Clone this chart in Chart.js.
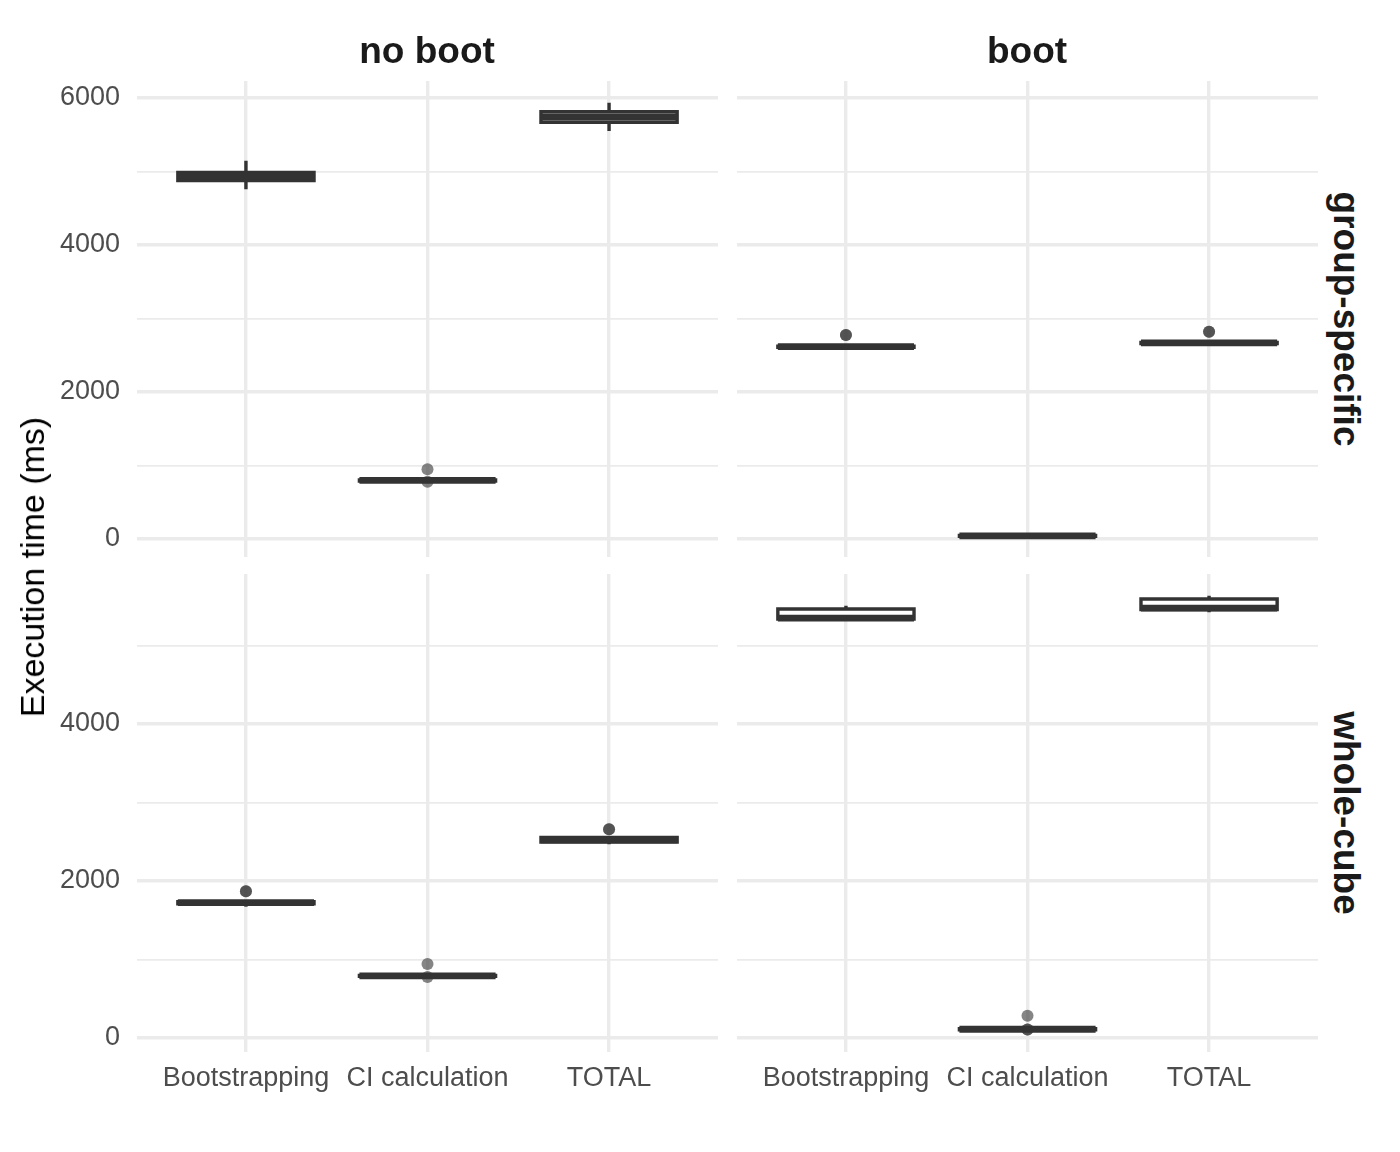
<!DOCTYPE html>
<html><head><meta charset="utf-8">
<script src="https://cdn.jsdelivr.net/npm/chart.js@4.4.1/dist/chart.umd.min.js"></script>
<style>
html,body{margin:0;padding:0;background:#fff;}
body{width:1400px;height:1152px;position:relative;overflow:hidden;font-family:"Liberation Sans",Arial,sans-serif;}
canvas{position:absolute;}
.lab{position:absolute;white-space:nowrap;line-height:1;transform-origin:center center;}
.strip{font-weight:bold;font-size:37px;color:#1a1a1a;}
.ytitle{font-size:34px;color:#000;}
</style></head><body>
<canvas id="c1" width="718" height="556" style="left:0px;top:41px;"></canvas>
<canvas id="c2" width="581" height="556" style="left:737px;top:41px;"></canvas>
<canvas id="c3" width="718" height="588" style="left:0px;top:534px;"></canvas>
<canvas id="c4" width="581" height="588" style="left:737px;top:534px;"></canvas>

<div class="lab strip" style="left:427px;top:50px;transform:translate(-50%,-50%);">no boot</div>
<div class="lab strip" style="left:1027px;top:50px;transform:translate(-50%,-50%);">boot</div>
<div class="lab strip" style="left:1346px;top:319px;transform:translate(-50%,-50%) rotate(90deg);">group-specific</div>
<div class="lab strip" style="left:1346px;top:813px;transform:translate(-50%,-50%) rotate(90deg);">whole-cube</div>
<div class="lab ytitle" style="left:32px;top:567px;transform:translate(-50%,-50%) rotate(-90deg);">Execution time (ms)</div>

<script>
// ---------- DATA ----------
const categories = ['Bootstrapping', 'CI calculation', 'TOTAL'];

// group-specific / no boot
const gsNoBootLower    = [4758, 790, 5551];
const gsNoBootQ1       = [4876, 790, 5669];
const gsNoBootMedian   = [4944, 797, 5741];
const gsNoBootQ3       = [4988, 803, 5813];
const gsNoBootUpper    = [5147, 805, 5936];
const gsNoBootOutliers = [[], [948, 778], []];

// group-specific / boot
const gsBootLower    = [2600, 32, 2655];
const gsBootQ1       = [2608, 38, 2660];
const gsBootMedian   = [2616, 43, 2667];
const gsBootQ3       = [2622, 48, 2673];
const gsBootUpper    = [2630, 55, 2680];
const gsBootOutliers = [[2776, 2776], [], [2820, 2820]];

// whole-cube / no boot
const wcNoBootLower    = [1673, 785, 2467];
const wcNoBootQ1       = [1710, 787, 2497];
const wcNoBootMedian   = [1724, 792, 2526];
const wcNoBootQ3       = [1738, 797, 2555];
const wcNoBootUpper    = [1738, 800, 2558];
const wcNoBootOutliers = [[1869, 1869], [943, 776], [2659, 2659]];

// whole-cube / boot
const wcBootLower    = [5330, 100, 5423];
const wcBootQ1       = [5338, 106, 5458];
const wcBootMedian   = [5350, 112, 5476];
const wcBootQ3       = [5465, 118, 5593];
const wcBootUpper    = [5505, 125, 5634];
const wcBootOutliers = [[], [284, 110, 110], []];

// axis ticks
const yTicksTop    = [0, 1000, 2000, 3000, 4000, 5000, 6000];
const yTicksBottom = [0, 1000, 2000, 3000, 4000, 5000];
const yRangeTop    = [-245, 6231];
const yRangeBottom = [-178, 5911];
const xTicks       = [0, 1, 2];

// ---------- STYLE ----------
const BOX_WIDTH = 0.75;
const LINE = '#333333';
const GRID = '#ebebeb';
const MAJOR_W = 3.4, MINOR_W = 1.7;
const tickFont = {family: 'Liberation Sans', size: 27};

function makeBoxPlugin(stats) {
  return {
    id: 'boxes',
    afterDatasetsDraw(chart) {
      const ctx = chart.ctx, xs = chart.scales.x, ys = chart.scales.y;
      const half = Math.abs(xs.getPixelForValue(1) - xs.getPixelForValue(0)) * BOX_WIDTH / 2;
      ctx.save();
      ctx.strokeStyle = LINE;
      ctx.lineCap = 'butt';
      ctx.lineJoin = 'miter';
      stats.median.forEach((m, i) => {
        const cx = xs.getPixelForValue(i);
        const yl = ys.getPixelForValue(stats.lower[i]);
        const y1 = ys.getPixelForValue(stats.q1[i]);
        const ym = ys.getPixelForValue(m);
        const y3 = ys.getPixelForValue(stats.q3[i]);
        const yu = ys.getPixelForValue(stats.upper[i]);
        ctx.lineWidth = MAJOR_W;
        ctx.beginPath();
        ctx.moveTo(cx, yu); ctx.lineTo(cx, y3);
        ctx.moveTo(cx, y1); ctx.lineTo(cx, yl);
        ctx.stroke();
        ctx.fillStyle = '#ffffff';
        ctx.beginPath();
        ctx.rect(cx - half, y3, 2 * half, y1 - y3);
        ctx.fill();
        ctx.stroke();
        ctx.lineWidth = MAJOR_W * 2;
        ctx.beginPath();
        ctx.moveTo(cx - half, ym); ctx.lineTo(cx + half, ym);
        ctx.stroke();
      });
      ctx.restore();
    }
  };
}

function makeChart(id, stats, outliers, yTicks, yRange, showY, showX) {
  const pts = [];
  outliers.forEach((arr, i) => arr.forEach(v => pts.push({x: i, y: v})));
  return new Chart(document.getElementById(id), {
    type: 'scatter',
    data: {
      datasets: [{
        data: pts,
        pointRadius: 6,
        pointHoverRadius: 6,
        pointBackgroundColor: 'rgba(51,51,51,0.6)',
        pointBorderWidth: 0,
        showLine: false,
        clip: false
      }]
    },
    options: {
      responsive: false,
      animation: false,
      events: [],
      layout: {autoPadding: false, padding: {top: 40, bottom: showX ? 0 : 40, left: 0, right: 0}},
      plugins: {legend: {display: false}, tooltip: {enabled: false}},
      scales: {
        x: {
          type: 'linear',
          min: -0.6, max: 2.6,
          offset: false,
          afterBuildTicks: s => { s.ticks = xTicks.map(v => ({value: v})); },
          afterFit: s => { s.height = showX ? 70 : 0; },
          grid: {color: GRID, lineWidth: MAJOR_W, drawTicks: false, offset: false},
          border: {display: false},
          ticks: {
            display: showX,
            autoSkip: false, maxRotation: 0, minRotation: 0,
            padding: 10,
            font: tickFont, color: '#4d4d4d',
            callback: v => categories[v]
          }
        },
        y: {
          type: 'linear',
          min: yRange[0], max: yRange[1],
          afterBuildTicks: s => { s.ticks = yTicks.map(v => ({value: v})); },
          afterFit: s => { s.width = showY ? 137 : 0; },
          grid: {
            color: GRID, drawTicks: false,
            lineWidth: c => (c.tick && c.tick.value % 2000 === 0) ? MAJOR_W : MINOR_W
          },
          border: {display: false},
          ticks: {
            display: showY,
            autoSkip: false,
            padding: 17,
            font: tickFont, color: '#4d4d4d',
            callback: v => (v % 2000 === 0 ? String(v) : '')
          }
        }
      }
    },
    plugins: [makeBoxPlugin(stats)]
  });
}

makeChart('c1',
  {lower: gsNoBootLower, q1: gsNoBootQ1, median: gsNoBootMedian, q3: gsNoBootQ3, upper: gsNoBootUpper},
  gsNoBootOutliers, yTicksTop, yRangeTop, true, false);
makeChart('c2',
  {lower: gsBootLower, q1: gsBootQ1, median: gsBootMedian, q3: gsBootQ3, upper: gsBootUpper},
  gsBootOutliers, yTicksTop, yRangeTop, false, false);
makeChart('c3',
  {lower: wcNoBootLower, q1: wcNoBootQ1, median: wcNoBootMedian, q3: wcNoBootQ3, upper: wcNoBootUpper},
  wcNoBootOutliers, yTicksBottom, yRangeBottom, true, true);
makeChart('c4',
  {lower: wcBootLower, q1: wcBootQ1, median: wcBootMedian, q3: wcBootQ3, upper: wcBootUpper},
  wcBootOutliers, yTicksBottom, yRangeBottom, false, true);
</script>
</body></html>
